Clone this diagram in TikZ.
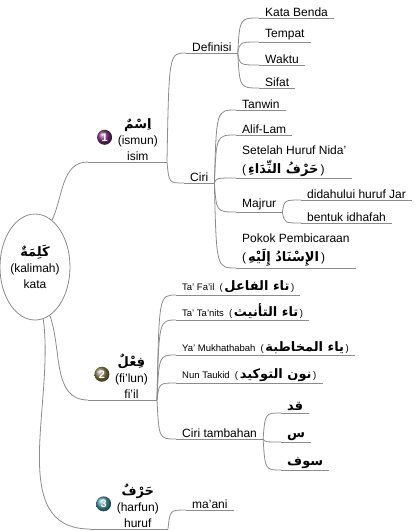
\documentclass[tikz,border=0pt]{standalone}
\usepackage{fontspec}
\setmainfont{Liberation Sans}
\newfontfamily\arabicfont[Script=Arabic]{DejaVu Sans}
\TeXXeTstate=1
\usetikzlibrary{shapes.geometric}

\definecolor{linegray}{RGB}{140,140,140}
\definecolor{ballone}{RGB}{130,50,130}
\definecolor{balltwo}{RGB}{140,130,75}
\definecolor{ballthree}{RGB}{70,160,170}
\newcommand{\ar}[1]{{\arabicfont\bfseries\fontsize{13}{14}\selectfont\beginR #1\endR}}

\tikzset{
  wire/.style={draw=linegray, line width=0.8pt},
  topic/.style={anchor=south west, inner xsep=6pt, inner ysep=1.5pt,
    font=\fontsize{12}{16}\selectfont},
  smalltopic/.style={topic, font=\fontsize{9.5}{12}\selectfont},
  mainbranch/.style={anchor=south east, inner xsep=9pt, inner ysep=1.5pt,
    align=center, font=\fontsize{12}{16}\selectfont},
  numball/.style={circle, shading=ball, ball color=#1, minimum size=15pt,
    inner sep=0pt, text=white, font=\fontsize{11}{11}\selectfont\bfseries},
  link/.style={to path={.. controls ([xshift=2pt]\tikztostart |- \tikztotarget)
    and ([xshift=2pt]\tikztostart |- \tikztotarget) .. (\tikztotarget)}}
}

\begin{document}
\begin{tikzpicture}[x=1pt,y=-1pt]
\useasboundingbox (0,0) rectangle (416,531);
% centre
\node[ellipse, draw=linegray, line width=0.8pt, minimum width=70pt, minimum height=106pt,
  inner sep=0pt, align=center, font=\fontsize{12}{16}\selectfont]
  (kalimah) at (35,267) {\ar{كَلِمَةٌ}\\(kalimah)\\kata};

% main branches
\node[mainbranch] (isim) at (167,162) {\ar{اِسْمٌ}\\(ismun)\\isim};
\node[mainbranch] (fiil) at (157,400) {\ar{فِعْلٌ}\\(fi'lun)\\fi'il};
\node[mainbranch] (harf) at (168,529) {\ar{حَرْفٌ}\\(harfun)\\huruf};
\coordinate (isim-l) at (88,162);
\coordinate (fiil-l) at (88,400);
\coordinate (harf-l) at (90,529);
\node[numball=ballone] (n1) at ([xshift=-4pt,yshift=2pt]isim.west) {1};
\node[numball=balltwo] (n2) at ([xshift=-4pt,yshift=2pt]fiil.west) {2};
\node[numball=ballthree] (n3) at ([xshift=-4pt,yshift=2pt]harf.west) {3};

% isim
\node[topic] (def) at (186,53) {Definisi};
\node[topic] (benda) at (259,18) {Kata Benda};
\node[topic] (tempat) at (259,42) {Tempat};
\node[topic] (waktu) at (259,65) {Waktu};
\node[topic] (sifat) at (259,88) {Sifat};
\node[topic] (ciri) at (184,183) {Ciri};
\node[topic] (tanwin) at (236,110) {Tanwin};
\node[topic] (alif) at (236,135) {Alif-Lam};
\node[topic, align=left] (nida) at (236,178) {Setelah Huruf Nida'\\[3pt](\,\ar{حَرْفُ النِّدَاءِ}\,)};
\node[topic] (majrur) at (236,212) {Majrur};
\node[topic] (jar) at (301,200) {didahului huruf Jar};
\node[topic] (idhafah) at (301,223) {bentuk idhafah};
\node[topic, align=left] (pokok) at (236,268) {Pokok Pembicaraan\\[3pt](\,\ar{الإِسْنَادُ إِلَيْهِ}\,)};

% fi'il
\node[smalltopic] (fail) at (176,295) {Ta' Fa'il \;(\,\ar{تاء الفاعل}\,)};
\node[smalltopic] (tanits) at (176,320) {Ta' Ta'nits \;(\,\ar{تاء التأنيث}\,)};
\node[smalltopic] (mukh) at (176,355) {Ya' Mukhathabah \;(\,\ar{ياء المخاطبة}\,)};
\node[smalltopic] (taukid) at (176,383) {Nun Taukid \;(\,\ar{نون التوكيد}\,)};
\node[topic] (tambah) at (176,439) {Ciri tambahan};
\node[topic] (qad) at (281,413) {\ar{قد}};
\node[topic] (sin) at (281,442) {\ar{س}};
\node[topic] (sawfa) at (281,470) {\ar{سوف}};

% huruf
\node[topic] (maani) at (186,510) {ma'ani};

% underlines
\foreach \n in {def,benda,tempat,waktu,sifat,ciri,tanwin,alif,nida,majrur,jar,idhafah,pokok,
  fail,tanits,mukh,taukid,tambah,qad,sin,sawfa,maani}
  \draw[wire] (\n.south west) -- (\n.south east);
\foreach \n in {isim,fiil,harf}
  \draw[wire] (\n-l) -- (\n.south east);

% connectors
\draw[wire] (kalimah.70) to[out=65,in=180] (isim-l);
\draw[wire] (kalimah.-73) to[out=-70,in=180] (fiil-l);
\draw[wire] (kalimah.-81) to[out=-82,in=180] (harf-l);
\foreach \a/\b in {isim/def,isim/ciri,def/benda,def/tempat,def/waktu,def/sifat,
  ciri/tanwin,ciri/alif,ciri/nida,ciri/majrur,ciri/pokok,majrur/jar,majrur/idhafah,
  fiil/fail,fiil/tanits,fiil/mukh,fiil/taukid,fiil/tambah,
  tambah/qad,tambah/sin,tambah/sawfa,harf/maani}
  \draw[wire] (\a.south east) to[link] (\b.south west);
\end{tikzpicture}
\end{document}
